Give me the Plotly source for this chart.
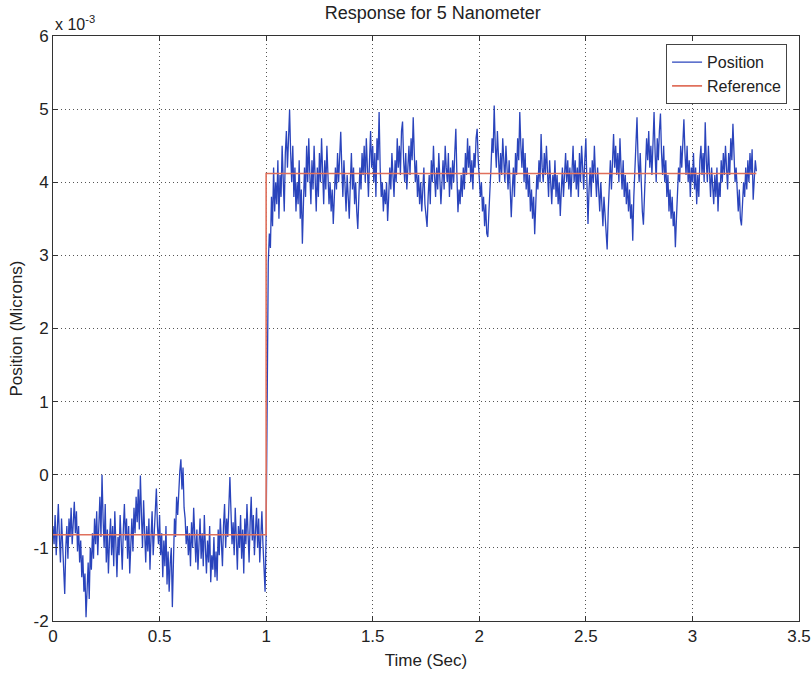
import numpy as np
import plotly.graph_objects as go

# Sample interval (s) of the position record
dt = 0.005

# Position samples, in units of 1e-5 microns (i.e. 0.01 x 10^-3 microns)
# t = 0.000 .. 0.995 s (before the step)
position_before = [
    -70, -95, -55, -110, -75, -40, -85, -120, -60, -90,
    -130, -163, -100, -70, -115, -60, -85, -45, -95, -65,
    -37, -80, -50, -105, -70, -120, -90, -140, -110, -160,
    -135, -195, -150, -120, -170, -100, -130, -80, -115, -60,
    -95, -50, -110, -65, -30, -85, 0, -60, -100, -40,
    -120, -75, -135, -90, -60, -110, -70, -125, -50, -95,
    -140, -85, -110, -55, -100, -130, -75, -40, -90, -60,
    -115, -70, -135, -95, -60, -105, -45, -80, -30, -65,
    -20, -75, -1, -55, -100, -35, -90, -120, -70, -105,
    -60, -130, -85, -50, -110, -75, -40, -19, -70, -95,
    -55, -110, -80, -140, -90, -125, -70, -150, -105, -160,
    -120, -100, -181, -110, -60, -85, -30, -55, -10, 5,
    21, -20, 10, -45, -60, -95, -70, -110, -80, -125,
    -65, -100, -45, -90, -120, -75, -130, -95, -60, -115,
    -80, -125, -55, -100, -135, -90, -120, -70, -147, -110,
    -130, -85, -140, -105, -145, -75, -110, -60, -95, -125,
    -70, -40, -100, -60, -85, -30, -3, -50, -95, -65,
    -110, -45, -80, -130, -70, -100, -55, -115, -75, -135,
    -60, -95, -40, -85, -120, -65, -30, -90, -55, -110,
    -75, -45, -100, -60, -120, -85, -50, -95, -120, -160,
]
# t = 1.000 .. 3.300 s (step and after)
position_after = [
    -80, 120, 290, 330, 310, 380, 340, 420, 360, 400,
    370, 430, 350, 410, 380, 450, 400, 360, 440, 470,
    420, 460, 499, 440, 400, 450, 380, 420, 360, 400,
    370, 430, 350, 390, 316, 370, 420, 380, 450, 400,
    460, 410, 370, 430, 390, 450, 400, 360, 420, 380,
    440, 400, 460, 420, 370, 430, 390, 450, 410, 370,
    400, 360, 390, 343, 380, 420, 390, 440, 400, 450,
    469, 420, 380, 430, 400, 360, 410, 380, 350, 400,
    440, 390, 420, 370, 400, 360, 336, 380, 420, 390,
    440, 410, 450, 400, 460, 420, 380, 430, 470, 420,
    450, 400, 440, 380, 460, 430, 496, 420, 380, 400,
    360, 390, 370, 400, 347, 380, 420, 390, 440, 410,
    380, 430, 400, 460, 420, 450, 410, 470, 483, 430,
    400, 440, 390, 420, 450, 410, 460, 430, 489, 440,
    400, 430, 380, 410, 370, 400, 360, 390, 420, 370,
    350, 339, 380, 410, 370, 430, 400, 450, 410, 380,
    420, 390, 440, 410, 370, 400, 430, 390, 450, 420,
    400, 440, 380, 420, 390, 430, 400, 440, 473, 410,
    359, 390, 370, 410, 380, 420, 390, 440, 410, 460,
    420, 450, 400, 430, 390, 440, 420, 460, 473, 430,
    410, 380, 400, 360, 380, 340, 370, 330, 325, 350,
    390, 420, 460, 440, 505, 450, 420, 470, 430, 400,
    440, 410, 460, 430, 400, 450, 420, 390, 430, 380,
    352, 390, 420, 380, 440, 410, 460, 430, 496, 450,
    420, 460, 400, 440, 390, 420, 380, 410, 360, 390,
    350, 380, 329, 370, 410, 390, 430, 400, 466, 420,
    400, 440, 410, 450, 420, 380, 430, 400, 370, 410,
    390, 430, 380, 410, 370, 400, 354, 390, 420, 380,
    410, 440, 400, 430, 390, 420, 380, 410, 450, 400,
    430, 390, 420, 380, 440, 400, 450, 420, 390, 430,
    460, 400, 343, 390, 420, 380, 430, 400, 450, 410,
    380, 420, 390, 360, 400, 370, 340, 380, 350, 330,
    308, 360, 400, 430, 390, 440, 466, 420, 450, 410,
    440, 400, 460, 420, 390, 430, 380, 410, 370, 400,
    360, 390, 350, 370, 320, 380, 420, 450, 489, 430,
    400, 440, 380, 360, 342, 390, 420, 460, 430, 470,
    420, 450, 410, 470, 496, 440, 400, 460, 430, 470,
    494, 440, 410, 450, 400, 430, 380, 410, 360, 390,
    350, 380, 340, 360, 311, 350, 390, 420, 400, 450,
    420, 460, 486, 440, 410, 450, 400, 430, 380, 420,
    400, 440, 390, 420, 370, 410, 380, 430, 450, 410,
    440, 400, 482, 430, 400, 450, 410, 380, 420, 390,
    370, 410, 380, 420, 360, 400, 380, 430, 400, 440,
    410, 450, 420, 390, 440, 410, 460, 430, 480, 440,
    400, 420, 380, 360, 390, 350, 341, 370, 400, 380,
    420, 390, 430, 400, 440, 410, 445, 376, 410, 430,
    415,
]

# Reference step (time in s, value in 1e-3 microns)
ref_time = [0.0, 1.0, 1.0, 3.3]
ref_value = [-0.82, -0.82, 4.12, 4.12]

x_ticks = [0, 0.5, 1, 1.5, 2, 2.5, 3, 3.5]
y_ticks = [-2, -1, 0, 1, 2, 3, 4, 5, 6]

pos_vals = np.array(position_before + position_after) / 100.0  # in 1e-3 microns
pos_time = np.arange(len(pos_vals)) * dt

font = "Liberation Sans, Arial, sans-serif"
txt = "#222222"

fig = go.Figure()
fig.add_trace(go.Scatter(
    x=pos_time, y=pos_vals, mode="lines", name="Position",
    line=dict(color="#2a44bc", width=1.3),
))
fig.add_trace(go.Scatter(
    x=ref_time, y=ref_value, mode="lines", name="Reference",
    line=dict(color="#e0705c", width=1.6),
))

axis_common = dict(
    showline=True, linecolor="#333333", linewidth=1, mirror="ticks",
    ticks="inside", ticklen=5, tickcolor="#333333",
    showgrid=True, gridcolor="#555555", griddash="1px,3px", gridwidth=1,
    zeroline=False, automargin=False,
    tickfont=dict(family=font, size=17, color=txt),
)

fig.update_layout(
    width=812, height=673,
    margin=dict(l=53, r=13, t=36, b=52),
    paper_bgcolor="white", plot_bgcolor="white",
    title=dict(text="Response for 5 Nanometer", x=0.533, xanchor="center",
               y=0.981, yanchor="middle",
               font=dict(family=font, size=18, color=txt)),
    xaxis=dict(range=[0, 3.5], tickvals=x_ticks, ticktext=[str(v) for v in x_ticks],
               title=dict(text="Time (Sec)", standoff=8,
                          font=dict(family=font, size=17, color=txt)),
               **axis_common),
    yaxis=dict(range=[-2, 6], tickvals=y_ticks, ticktext=[str(v) for v in y_ticks],
               title=dict(text="Position (Microns)", standoff=6,
                          font=dict(family=font, size=17, color=txt)),
               **axis_common),
    legend=dict(x=0.984, y=0.986, xanchor="right", yanchor="top",
                bgcolor="white", bordercolor="#444444", borderwidth=1,
                font=dict(family=font, size=16, color=txt),
                tracegroupgap=0, itemwidth=30),
    showlegend=True,
)

fig.add_annotation(
    text="x 10<sup>-3</sup>", xref="paper", yref="paper", x=0.0, y=1.0,
    xanchor="left", yanchor="bottom", showarrow=False, yshift=1,
    font=dict(family=font, size=16, color=txt),
)

fig.write_html("out.html")
